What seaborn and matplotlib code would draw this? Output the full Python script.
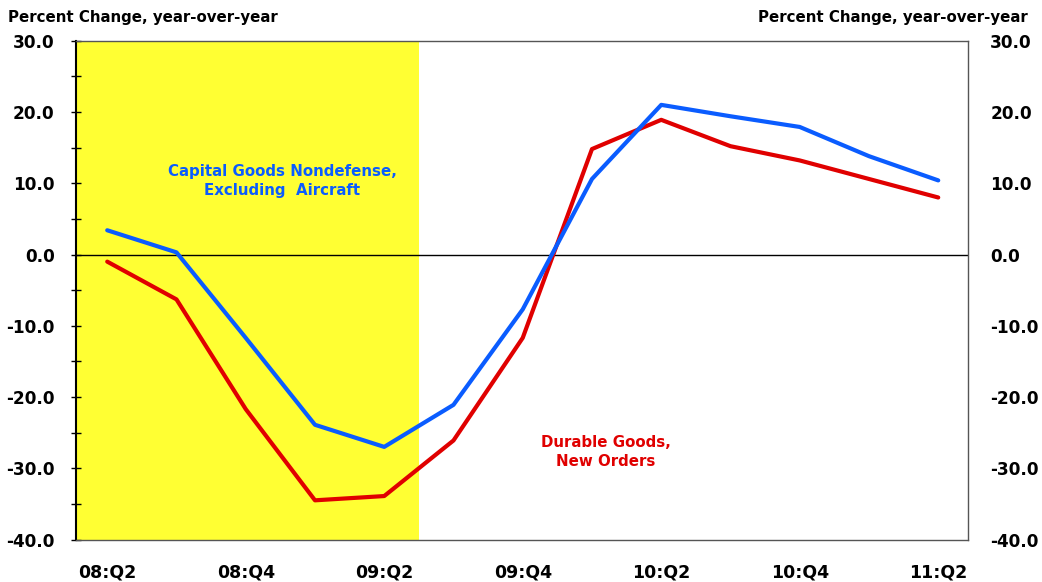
import matplotlib
matplotlib.use("Agg")
import matplotlib.pyplot as plt
import seaborn as sns
import pandas as pd
from matplotlib.ticker import MultipleLocator, FormatStrFormatter

# quarters 08:Q2 .. 11:Q2
quarters = ["08:Q2", "08:Q3", "08:Q4", "09:Q1", "09:Q2", "09:Q3", "09:Q4",
            "10:Q1", "10:Q2", "10:Q3", "10:Q4", "11:Q1", "11:Q2"]
capital_goods = [3.4, 0.3, -11.7, -23.9, -27.0, -21.1, -7.7,
                 10.6, 21.0, 19.4, 17.9, 13.8, 10.4]
durable_goods = [-1.0, -6.3, -21.7, -34.5, -33.9, -26.1, -11.7,
                 14.8, 18.9, 15.2, 13.2, 10.6, 8.0]
recession_end = 4.5  # shade from start through 09:Q2

blue = "#0A5CFF"
red = "#E00000"

sns.set_style("white")
plt.rcParams['font.family'] = ['DejaVu Sans']
plt.rcParams['text.color'] = 'black'
plt.rcParams['xtick.color'] = 'black'
plt.rcParams['ytick.color'] = 'black'

df = pd.DataFrame({"q": range(len(quarters)),
                   "Capital Goods": capital_goods,
                   "Durable Goods": durable_goods})

fig = plt.figure(figsize=(10.42, 5.82), dpi=100)
ax = fig.add_axes([0.073, 0.073, 0.856, 0.857])

ax.set_xlim(-0.45, 12.43)
ax.set_ylim(-40, 30)

ax.axvspan(-0.45, recession_end, color="#FFFF33", zorder=0, lw=0)
ax.axhline(0, color="black", lw=1, zorder=1)

sns.lineplot(data=df, x="q", y="Durable Goods", color=red, lw=3, ax=ax, zorder=3)
sns.lineplot(data=df, x="q", y="Capital Goods", color=blue, lw=3, ax=ax, zorder=3)

ax.set_xlabel("")
ax.set_ylabel("")
ax.set_xticks(range(len(quarters)))
ax.set_xticklabels([q if i % 2 == 0 else "" for i, q in enumerate(quarters)])
ax.tick_params(axis="x", direction="inout", length=10, width=1, color="#333333",
               labelsize=12.5, pad=12)
ax.yaxis.set_major_locator(MultipleLocator(10))
ax.yaxis.set_minor_locator(MultipleLocator(5))
ax.yaxis.set_major_formatter(FormatStrFormatter("%.1f"))
ax.tick_params(axis="y", which="both", direction="inout", length=7, width=1,
               color="black", labelsize=12.2, pad=12)
for lab in ax.get_xticklabels() + ax.get_yticklabels():
    lab.set_fontweight("bold")

for side in ["top", "bottom", "right"]:
    ax.spines[side].set_color("#555555")
    ax.spines[side].set_linewidth(1)
ax.spines["left"].set_color("black")
ax.spines["left"].set_linewidth(1.5)

ax2 = ax.twinx()
ax2.set_ylim(-40, 30)
ax2.yaxis.set_major_locator(MultipleLocator(10))
ax2.yaxis.set_major_formatter(FormatStrFormatter("%.1f"))
ax2.tick_params(axis="y", length=0, labelsize=12.2, pad=16)
for lab in ax2.get_yticklabels():
    lab.set_fontweight("bold")
for sp in ax2.spines.values():
    sp.set_visible(False)

fig.text(0.008, 0.97, "Percent Change, year-over-year", fontsize=10.8,
         fontweight="bold", ha="left", va="center")
fig.text(0.986, 0.97, "Percent Change, year-over-year", fontsize=10.8,
         fontweight="bold", ha="right", va="center")

ax.text(2.53, 10.3, "Capital Goods Nondefense,\nExcluding  Aircraft", color=blue,
        fontsize=10.8, fontweight="bold", ha="center", va="center", linespacing=1.35)
ax.text(7.2, -27.7, "Durable Goods,\nNew Orders", color=red,
        fontsize=10.8, fontweight="bold", ha="center", va="center", linespacing=1.35)

fig.savefig("out.png", dpi=100)
